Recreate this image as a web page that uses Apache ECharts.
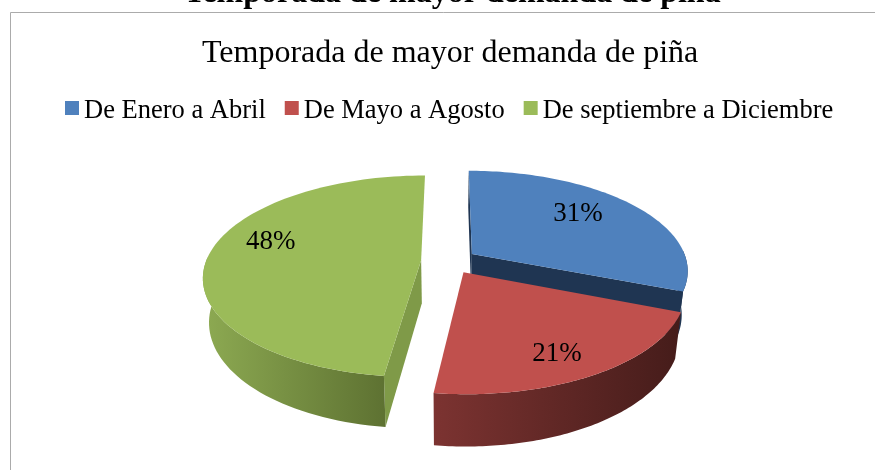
<!DOCTYPE html>
<html><head><meta charset="utf-8">
<style>html,body{margin:0;padding:0;background:#fff}#c{width:875px;height:470px}</style>
<script src="https://cdn.jsdelivr.net/npm/echarts@6/dist/echarts.min.js"></script>
</head><body><div id="c"></div>
<script>
const chartTitle = 'Temporada de mayor demanda de piña';
const categories = ['De Enero a Abril', 'De Mayo a Agosto', 'De septiembre a Diciembre'];
const shares = [31, 21, 48];

const FONT = '"Liberation Serif","Times New Roman",serif';
const view = {cx: 449, cy: 261, rx: 215, ry: 98.5, persp: 0.16, depth: 43, explode: 0.13, shrink: 0.975};
const looks = [
  {top: '#4F81BD', wall: '#1F3552', rim: ['#1F3552', '#1F3552'], z: 1, labelR: 0.70, labelNudge: -5, walls: [0, 1]},
  {top: '#C0504D', wall: '#5A2422', rim: ['#7C3331', '#451C1A'], z: 3, labelR: 0.80, labelNudge: 3, walls: []},
  {top: '#9BBB59', wall: '#7F9A48', rim: ['#8DAA52', '#5E7232'], z: 2, labelR: 0.75, labelNudge: 11, walls: [0]}
];
const total = shares.reduce((a, b) => a + b, 0);

function project(X, Z) {
  const s = 1 / (1 - view.persp * Z);
  return {x: view.cx + view.rx * X * s, y: view.cy + view.ry * Z * s, d: view.depth * s};
}
function drawSlice(i, value) {
  const before = shares.slice(0, i).reduce((a, b) => a + b, 0);
  const a0 = before / total * 2 * Math.PI;
  const a1 = (before + value) / total * 2 * Math.PI;
  const mid = (a0 + a1) / 2;
  const ox = Math.sin(mid) * view.explode, oz = -Math.cos(mid) * view.explode;
  const at = (a, r) => project(ox + r * Math.sin(a), oz - r * Math.cos(a));
  const look = looks[i];
  const n = 90, arc = [], front = [];
  for (let k = 0; k <= n; k++) {
    const a = a0 + (a1 - a0) * k / n;
    const p = at(a, 1);
    arc.push(p);
    if (Math.cos(a) < 0.05) front.push(p);
  }
  const apex = at(0, 0);
  const pair = p => [p.x, p.y];
  const low = p => [view.cx + (p.x - view.cx) * view.shrink, p.y + p.d];
  const xs = front.map(p => p.x);
  const rimFill = {
    type: 'linear', global: true,
    x: Math.min(...xs), y: 0, x2: Math.max(...xs), y2: 0,
    colorStops: [{offset: 0, color: look.rim[0]}, {offset: 1, color: look.rim[1]}]
  };
  const poly = (points, fill) => ({type: 'polygon', shape: {points}, style: {fill}, silent: true});
  const wall = p => poly([pair(apex), pair(p), low(p), low(apex)], look.wall);
  const ends = [arc[0], arc[n]];
  const na = mid + look.labelNudge * Math.PI / 180;
  const lp = project(ox + look.labelR * Math.sin(na), oz - look.labelR * Math.cos(na));
  return {
    type: 'group',
    children: look.walls.map(w => wall(ends[w])).concat([
      poly(front.map(pair).concat(front.slice().reverse().map(low)), rimFill),
      poly([pair(apex)].concat(arc.map(pair)), look.top),
      {type: 'text', silent: true, style: {
        x: lp.x, y: lp.y, text: Math.round(value / total * 100) + '%',
        fill: '#000', font: '27px ' + FONT, align: 'center', verticalAlign: 'middle'
      }}
    ])
  };
}

const chart = echarts.init(document.getElementById('c'), null, {renderer: 'canvas'});
chart.setOption({
  animation: false,
  backgroundColor: '#fff',
  title: [
    {text: chartTitle, left: 179, top: -27,
     textStyle: {fontFamily: FONT, fontWeight: 'bold', fontSize: 32, color: '#000'}},
    {text: chartTitle, left: 197, top: 33,
     textStyle: {fontFamily: FONT, fontWeight: 'normal', fontSize: 32, color: '#000'}}
  ],
  legend: {
    data: categories, top: 93, left: 60, icon: 'rect',
    itemWidth: 14, itemHeight: 14, itemGap: 19,
    formatter: name => '{t|' + name + '}',
    textStyle: {rich: {t: {fontFamily: FONT, fontSize: 26.5, color: '#000', padding: [7, 0, 0, 0]}}},
    selectedMode: false
  },
  graphic: [{type: 'rect', silent: true, z: -1,
    shape: {x: 10.5, y: 12.5, width: 900, height: 500},
    style: {fill: 'none', stroke: '#ABABAB', lineWidth: 1}}],
  series: categories.map((name, i) => ({
    type: 'custom', name, coordinateSystem: 'none', z: looks[i].z,
    itemStyle: {color: looks[i].top},
    data: [shares[i]],
    renderItem: (params, api) => drawSlice(i, api.value(0))
  }))
});
</script></body></html>
